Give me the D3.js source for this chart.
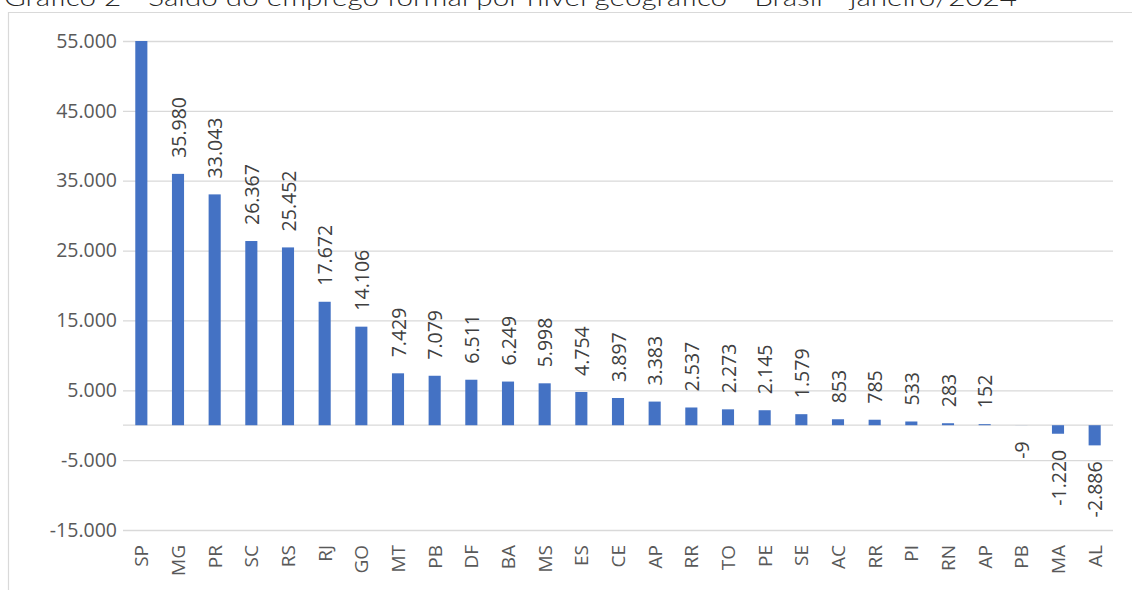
<!DOCTYPE html>
<html>
<head>
<meta charset="utf-8">
<script src="https://cdn.jsdelivr.net/npm/d3@7"></script>
<style>
  body { margin: 0; background: #fff; }
  svg { display: block; }
</style>
</head>
<body>
<div id="chart"></div>
<script>
const FRAME_WIDTH = 1132;
const FRAME_HEIGHT = 590;
const MARGINS = {left: 123, right: 19, top: 41, bottom: 60};

const TITLE = "Gráfico 2 - Saldo do emprego formal por nível geográfico - Brasil - janeiro/2024";

// categories (some repeat in the original, so bars are keyed by index)
const states = ["SP", "MG", "PR", "SC", "RS", "RJ", "GO", "MT", "PB", "DF", "BA", "MS", "ES",
                "CE", "AP", "RR", "TO", "PE", "SE", "AC", "RR", "PI", "RN", "AP", "PB", "MA", "AL"];
// SP bar reaches the top of the axis, its label is not shown
const saldo = [55000, 35980, 33043, 26367, 25452, 17672, 14106, 7429, 7079, 6511, 6249, 5998, 4754,
               3897, 3383, 2537, 2273, 2145, 1579, 853, 785, 533, 283, 152, -9, -1220, -2886];
const y_ticks = [-15000, -5000, 5000, 15000, 25000, 35000, 45000, 55000];

// pt-BR style: dot for thousands, plain hyphen for minus
const fmt = (v) => d3.format(",")(v).replace(/,/g, ".").replace("\u2212", "-");

const SVG = d3.select("#chart")
  .append("svg")
    .attr("width", FRAME_WIDTH)
    .attr("height", FRAME_HEIGHT);

// outer frame (only top and left edges are visible)
SVG.append("path")
  .attr("d", "M8.5," + FRAME_HEIGHT + "V12.5H" + FRAME_WIDTH)
  .attr("fill", "none")
  .attr("stroke", "#d9d9d9")
  .attr("stroke-width", 1.2);

// title, cut by the top of the picture
SVG.append("text")
  .attr("x", 4)
  .attr("y", 6)
  .attr("textLength", 1013)
  .attr("lengthAdjust", "spacingAndGlyphs")
  .style("font-family", "Lato, 'Open Sans', sans-serif")
  .style("font-weight", 300)
  .style("font-size", "24px")
  .style("fill", "#262626")
  .text(TITLE);

const x = d3.scaleBand()
  .domain(d3.range(states.length))
  .range([MARGINS.left, FRAME_WIDTH - MARGINS.right])
  .paddingInner(0.67)
  .paddingOuter(0.335);

const y = d3.scaleLinear()
  .domain([-15000, 55000])
  .range([FRAME_HEIGHT - MARGINS.bottom, MARGINS.top]);

// gridlines + y labels
const yAxis = SVG.append("g")
  .attr("transform", "translate(" + MARGINS.left + ",0)")
  .call(d3.axisLeft(y)
    .tickValues(y_ticks)
    .tickSize(-(FRAME_WIDTH - MARGINS.left - MARGINS.right))
    .tickPadding(6)
    .tickFormat(fmt));
yAxis.select(".domain").remove();
yAxis.selectAll(".tick line")
  .attr("stroke", "#d9d9d9")
  .attr("stroke-width", 1.3);
yAxis.selectAll(".tick text")
  .style("font-family", "'Open Sans', sans-serif")
  .style("font-size", "19.5px")
  .style("fill", "#595959");

// category axis line at zero
SVG.append("line")
  .attr("x1", MARGINS.left)
  .attr("x2", FRAME_WIDTH - MARGINS.right)
  .attr("y1", y(0))
  .attr("y2", y(0))
  .attr("stroke", "#d9d9d9")
  .attr("stroke-width", 1.3);

// bars
SVG.append("g")
  .selectAll("rect")
  .data(saldo)
  .enter()
  .append("rect")
    .attr("x", (d, i) => x(i))
    .attr("width", x.bandwidth())
    .attr("y", (d) => y(Math.max(0, d)))
    .attr("height", (d) => Math.abs(y(d) - y(0)))
    .attr("fill", "#4472c4");

// value labels, rotated, outside end of each bar
const GAP = 16;
SVG.append("g")
  .selectAll("text")
  .data(saldo.map((v, i) => ({v: v, i: i})).filter((d) => d.v < 55000))
  .enter()
  .append("text")
    .attr("transform", (d) => {
      const cx = x(d.i) + x.bandwidth() / 2;
      const cy = d.v >= 0 ? y(d.v) - GAP : y(d.v) + GAP;
      return "translate(" + cx + "," + cy + ") rotate(-90)";
    })
    .attr("text-anchor", (d) => d.v >= 0 ? "start" : "end")
    .attr("dominant-baseline", "central")
    .style("font-family", "'Open Sans', sans-serif")
    .style("font-size", "19.5px")
    .style("fill", "#404040")
    .text((d) => fmt(d.v));

// category labels at the bottom
SVG.append("g")
  .selectAll("text")
  .data(states)
  .enter()
  .append("text")
    .attr("transform", (d, i) => "translate(" + (x(i) + x.bandwidth() / 2) + "," + 545 + ") rotate(-90)")
    .attr("text-anchor", "end")
    .attr("dominant-baseline", "central")
    .style("font-family", "'Open Sans', sans-serif")
    .style("font-size", "19px")
    .style("fill", "#595959")
    .text((d) => d);
</script>
</body>
</html>
